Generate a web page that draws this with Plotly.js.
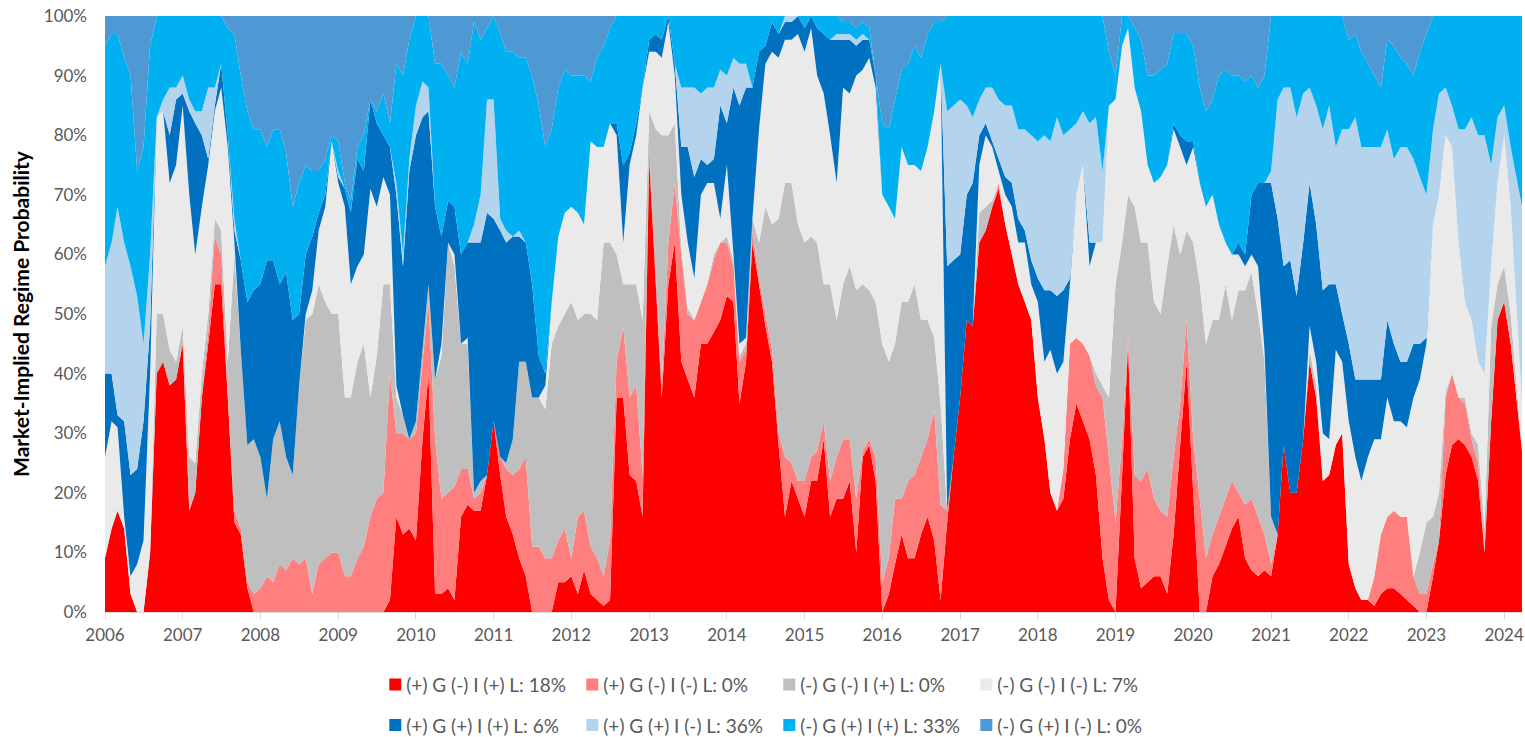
<!DOCTYPE html>
<html><head><meta charset="utf-8">
<script src="https://cdn.plot.ly/plotly-3.0.1.min.js"></script>
<style>html,body{margin:0;padding:0;background:#fff;}#chart{width:1525px;height:737px;}</style>
</head><body><div id="chart"></div>
<script>
// Monthly sample dates from Jan 2006 to Feb 2024, plus the last data point (late Mar 2024)
const firstYear = 2006;
const monthlyCount = 218;
const lastDate = '2024-03-25';
const dates = [];
for (let k = 0; k < monthlyCount; k++) {
  const yr = firstYear + Math.floor(k / 12);
  const mo = 1 + (k % 12);
  dates.push(yr + '-' + String(mo).padStart(2, '0') + '-01');
}
dates.push(lastDate);

// Regime probabilities (%); one row per year
const posG_negI_posL = [
  9,14,17,14,3,0,0,10,40,42,38,39,
  45,17,20,36,45,55,55,36,15,13,4,0,
  0,0,0,0,0,0,0,0,0,0,0,0,
  0,0,0,0,0,0,0,0,2,16,13,14,
  12,29,40,3,3,4,2,16,18,17,17,23,
  32,23,16,13,9,6,0,0,0,0,5,5,
  6,3,7,3,2,1,2,36,36,23,22,16,
  76,55,36,55,62,42,39,36,45,45,47,49,
  53,52,35,42,62,55,48,42,28,16,22,19,
  16,22,22,29,16,19,19,22,10,26,28,22,
  0,3,8,13,9,9,13,16,12,2,15,26,
  36,49,48,62,64,68,71,65,60,55,52,49,
  36,29,20,17,19,29,35,32,29,23,9,2,
  0,23,45,9,4,5,6,6,3,13,28,42,
  20,0,0,6,8,11,14,16,9,7,6,7,
  6,13,28,20,20,29,42,36,22,23,28,30,
  8,4,2,2,1,3,4,4,3,2,1,0,
  0,6,12,23,28,29,28,26,22,10,32,49,
  52,45,27];
const posG_negI_negL = [
  0,0,0,0,0,0,0,0,0,0,0,0,
  0,0,0,0,2,8,5,0,2,1,1,3,
  4,6,5,8,7,9,8,9,3,8,9,10,
  10,6,6,9,11,16,19,20,38,14,17,15,
  18,13,12,26,16,16,19,8,6,2,3,0,
  0,3,8,10,15,20,11,11,9,9,7,9,
  3,13,10,8,7,5,10,6,12,13,16,7,
  2,2,2,7,10,18,11,13,7,10,12,13,
  9,6,7,2,2,1,2,2,2,10,3,3,
  6,4,5,3,6,7,10,7,9,1,1,4,
  5,6,11,6,13,14,13,13,22,16,2,0,
  0,0,0,0,0,0,1,0,0,0,0,0,
  0,0,0,0,5,16,11,13,14,15,27,24,
  15,6,1,14,18,19,13,11,13,13,7,7,
  9,19,9,7,8,8,8,4,9,12,10,6,
  2,0,0,0,0,0,0,0,0,0,0,0,
  0,0,0,0,5,10,12,13,13,14,5,3,
  3,2,0,13,12,7,7,3,3,0,0,0,
  0,0,0];
const negG_negI_posL = [
  0,0,0,0,0,0,0,0,10,8,6,3,
  3,9,5,4,3,3,4,6,43,30,23,26,
  22,13,24,24,19,14,30,40,47,47,43,40,
  40,30,30,33,34,20,24,35,15,6,3,0,
  2,2,3,10,24,42,37,21,21,1,2,0,
  0,0,1,6,18,16,25,25,25,36,36,36,
  43,33,33,39,40,56,50,18,7,19,17,26,
  6,24,42,18,10,1,1,0,0,0,1,0,
  1,1,1,1,2,6,18,21,36,46,47,43,
  40,37,35,23,33,23,26,29,35,28,25,26,
  40,33,26,33,30,32,23,20,12,17,0,0,
  0,0,0,5,4,1,0,0,0,0,0,0,
  0,0,0,0,0,0,0,0,0,2,2,10,
  40,33,24,45,40,38,33,33,42,39,25,15,
  33,36,36,36,33,36,27,34,36,38,34,29,
  8,0,0,0,0,0,2,2,0,0,0,0,
  0,0,0,0,0,0,0,0,0,0,0,7,
  12,8,8,1,0,0,1,1,3,4,16,6,
  6,5,0];
const negG_negI_negL = [
  17,18,14,2,3,8,12,30,33,34,28,33,
  37,44,35,28,25,18,24,36,2,0,0,0,
  0,0,0,0,0,0,0,1,4,9,16,29,
  22,32,19,16,15,35,25,18,15,2,0,0,
  0,0,0,0,2,0,2,0,1,0,0,0,
  0,0,0,0,0,0,0,0,4,7,15,17,
  16,18,15,29,29,16,20,20,7,20,25,39,
  10,13,13,19,8,9,11,7,18,17,12,4,
  12,1,2,1,0,19,24,29,27,24,24,32,
  32,35,28,32,25,23,33,29,36,36,39,36,
  25,26,21,26,23,20,25,29,38,57,0,0,
  0,0,0,8,12,9,2,5,8,7,10,6,
  16,13,24,23,18,10,24,30,15,22,24,49,
  31,33,28,20,22,13,20,23,17,16,18,11,
  16,17,23,21,16,7,11,6,4,3,8,2,
  0,0,0,0,0,0,4,4,8,6,16,12,
  24,22,20,24,23,16,20,15,16,15,30,29,
  30,49,50,43,38,26,16,19,14,26,10,17,
  22,18,8];
const posG_posI_posL = [
  14,8,2,16,17,16,20,8,0,0,8,11,
  2,14,22,12,1,1,4,2,2,15,24,25,
  29,40,30,23,31,26,12,10,9,3,2,0,
  1,3,12,18,14,15,14,7,8,32,25,45,
  48,39,29,29,18,7,8,15,16,42,40,44,
  34,38,37,34,21,20,19,7,2,0,0,0,
  0,0,0,0,0,0,0,2,13,2,2,0,
  2,3,3,1,2,8,16,17,6,3,4,19,
  7,28,40,42,22,13,3,5,4,3,3,3,
  4,2,8,10,16,24,8,9,5,5,3,2,
  0,0,0,0,0,0,0,0,0,0,41,33,
  24,21,24,5,2,1,2,3,4,4,2,4,
  4,12,10,13,12,1,0,0,4,0,0,0,
  0,0,0,0,0,0,0,0,0,1,2,4,
  1,0,0,0,0,0,0,2,2,10,14,28,
  56,53,30,39,33,33,24,23,24,26,11,8,
  13,13,17,13,10,10,13,13,10,11,9,6,
  1,0,0,0,0,0,0,0,0,0,0,0,
  0,0,0];
const posG_posI_negL = [
  18,22,35,30,35,29,13,12,0,2,8,2,
  3,2,2,4,12,3,0,0,2,0,0,0,
  0,0,0,0,0,0,0,0,0,0,0,0,
  1,0,0,0,0,0,0,0,0,2,2,2,
  5,6,4,0,0,0,0,0,0,3,8,19,
  20,2,2,0,1,0,0,0,0,0,0,0,
  0,0,0,0,0,0,0,0,0,0,0,0,
  0,0,0,0,0,10,10,15,11,13,12,6,
  8,5,7,4,0,0,0,0,0,1,1,0,
  0,0,0,0,0,1,1,1,1,1,0,0,
  0,0,0,0,0,0,0,0,0,0,26,26,
  26,15,11,6,6,9,10,12,13,15,17,21,
  23,26,25,30,26,25,12,9,20,21,12,0,
  0,0,0,0,0,0,0,0,0,0,0,0,
  0,0,0,0,0,0,0,0,0,0,0,0,
  2,20,30,29,30,25,16,20,27,30,23,31,
  36,44,39,39,39,39,32,31,36,36,31,28,
  24,16,17,8,7,19,29,34,38,40,17,11,
  5,10,33];
const negG_posI_posL = [
  37,35,29,31,32,21,33,35,17,14,12,12,
  10,14,16,16,12,12,8,18,31,31,32,27,
  26,19,22,26,20,19,22,15,11,7,6,1,
  5,1,2,2,6,0,2,7,4,20,30,20,
  15,11,12,24,29,21,20,34,30,34,26,12,
  14,31,30,31,29,31,35,42,38,29,25,24,
  22,23,25,10,15,17,16,18,25,23,18,12,
  4,3,4,0,8,12,12,12,13,12,12,9,
  10,7,8,8,12,6,5,1,3,0,0,0,
  2,0,2,3,4,3,2,2,2,2,2,0,
  12,13,20,13,17,20,19,19,15,7,16,15,
  14,15,17,14,12,12,14,15,15,19,19,20,
  21,20,21,17,20,19,18,16,18,17,26,9,
  4,5,2,10,12,15,18,18,17,15,17,18,
  16,16,16,16,25,29,30,28,29,20,16,18,
  26,14,12,12,17,13,12,15,19,15,22,19,
  15,14,16,14,12,10,15,19,15,14,14,21,
  27,19,13,12,15,19,19,17,20,20,25,17,
  15,22,32];
const negG_posI_negL = [
  5,3,3,7,10,26,22,5,0,0,0,0,
  0,0,0,0,0,0,0,2,3,10,16,19,
  19,22,19,19,23,32,28,25,26,26,24,20,
  21,28,31,22,20,14,16,13,18,8,10,4,
  0,0,0,8,8,10,12,6,8,1,4,2,
  0,3,6,6,7,7,10,15,22,19,12,9,
  10,10,10,11,7,5,2,0,0,0,0,0,
  0,0,0,0,0,0,0,0,0,0,0,0,
  0,0,0,0,0,0,0,0,0,0,0,0,
  0,0,0,0,0,0,1,1,2,1,2,10,
  18,19,14,9,8,5,7,3,1,1,0,0,
  0,0,0,0,0,0,0,0,0,0,0,0,
  0,0,0,0,0,0,0,0,0,0,0,6,
  10,0,0,2,4,10,10,9,8,3,3,3,
  5,12,16,14,10,9,10,10,11,10,12,10,
  0,0,0,0,0,0,0,0,0,0,0,0,
  4,3,6,8,10,12,4,5,7,8,10,6,
  3,0,0,0,0,0,0,0,0,0,0,0,
  0,0,0];

const seriesNames = [
  '(+) G (-) I (+) L: 18%', '(+) G (-) I (-) L: 0%', '(-) G (-) I (+) L: 0%', '(-) G (-) I (-) L: 7%',
  '(+) G (+) I (+) L: 6%', '(+) G (+) I (-) L: 36%', '(-) G (+) I (+) L: 33%', '(-) G (+) I (-) L: 0%'
];
const seriesValues = [posG_negI_posL, posG_negI_negL, negG_negI_posL, negG_negI_negL,
                      posG_posI_posL, posG_posI_negL, negG_posI_posL, negG_posI_negL];
const seriesColors = ['#FF0000', '#FF7F7F', '#BFBFBF', '#EAEAEA',
                      '#0070C0', '#B4D4EE', '#00B0F0', '#4E99D3'];

const traces = seriesValues.map((vals, i) => ({
  type: 'scatter', mode: 'none', x: dates, y: vals, name: seriesNames[i],
  stackgroup: 'one', groupnorm: i === 0 ? 'percent' : undefined,
  fillcolor: seriesColors[i], line: {width: 0},
  legend: i < 4 ? 'legend' : 'legend2',
  hovertemplate: '%{x|%b %Y}: %{y:.0f}%<extra>' + seriesNames[i] + '</extra>'
}));

const FONT = 'Lato, "Open Sans", sans-serif';
const legendBase = {
  orientation: 'h', xanchor: 'left', x: 0.1844, yanchor: 'middle',
  entrywidth: 152, entrywidthmode: 'pixels', traceorder: 'normal',
  font: {family: FONT, size: 19, color: '#595959'},
  bgcolor: 'rgba(0,0,0,0)'
};

const layout = {
  width: 1525, height: 737,
  margin: {l: 105, r: 3, t: 16, b: 125, autoexpand: false},
  paper_bgcolor: '#ffffff', plot_bgcolor: '#ffffff',
  font: {family: FONT, color: '#595959', size: 17},
  showlegend: true,
  xaxis: {
    type: 'date', range: ['2006-01-01', lastDate],
    tick0: '2006-01-01', dtick: 'M12', tickformat: '%Y',
    showgrid: false, zeroline: false,
    showline: true, linecolor: '#D9D9D9', linewidth: 1,
    ticks: 'outside', ticklen: 6, tickcolor: '#D9D9D9',
    ticklabelstandoff: 2, ticklabeloverflow: 'allow',
    tickfont: {size: 17, color: '#595959'}
  },
  yaxis: {
    range: [0, 100], dtick: 10, ticksuffix: '%',
    showgrid: false, zeroline: false, showline: false, ticks: '',
    ticklabelstandoff: 17,
    tickfont: {size: 17, color: '#595959'},
    title: {text: 'Market-Implied Regime Probability', standoff: 8,
            font: {family: FONT, size: 21, color: '#000000', weight: 'bold'}}
  },
  legend: Object.assign({}, legendBase, {y: -0.122}),
  legend2: Object.assign({}, legendBase, {y: -0.19})
};

Plotly.newPlot('chart', traces, layout, {displayModeBar: false, staticPlot: true}).then(function (gd) {
  // Excel-style small square legend keys, right-aligned in the symbol slot
  gd.querySelectorAll('.legendfill path').forEach(function (p) {
    p.setAttribute('d', 'M23,-6h12v12h-12z');
  });
});
</script>
</body></html>
